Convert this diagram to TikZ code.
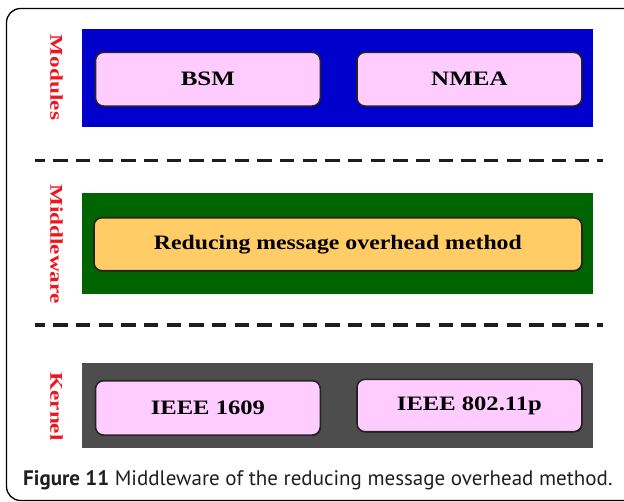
\documentclass[tikz,border=0pt]{standalone}
\usepackage{fontspec}
\setmainfont{Liberation Serif}
\newfontfamily\capfont{PT Sans}
\usetikzlibrary{shadows}
\definecolor{layerblue}{RGB}{0,0,204}
\definecolor{layergreen}{RGB}{0,100,0}
\definecolor{layergray}{RGB}{77,77,77}
\definecolor{boxpink}{RGB}{255,204,255}
\definecolor{boxorange}{RGB}{255,204,102}
\definecolor{labelred}{RGB}{240,20,30}
\definecolor{boxedge}{RGB}{40,35,35}
\definecolor{dashcol}{RGB}{30,30,30}
\newcommand{\boxtext}[2][1.22]{\scalebox{#1}[1]{\fontsize{20.5}{24}\selectfont\bfseries #2}}
\newcommand{\sidetext}[1]{\scalebox{1.29}[1]{\fontsize{18}{20}\selectfont\bfseries #1}}
\begin{document}
\begin{tikzpicture}[x=1pt,y=-1pt,
  layer/.style={draw=none, inner sep=0pt, outer sep=0pt, minimum width=510.5pt},
  module/.style={draw=boxedge, line width=1.6pt, rounded corners=8pt, inner sep=0pt,
    minimum width=224.8pt, minimum height=53.7pt, fill=boxpink,
    drop shadow={shadow xshift=0.8pt, shadow yshift=-0.8pt, fill=black, opacity=0.5}},
  sidelabel/.style={text=labelred, rotate=-90, inner sep=0pt},
  sep/.style={draw=dashcol, line width=3.6pt, dash pattern=on 14.3pt off 8.37pt, dash phase=4.3pt}
]
\useasboundingbox (0,0) rectangle (624,501);
\begin{scope}
\clip (0,0) rectangle (624,501);
\draw[line width=1.3pt, rounded corners=14pt] (6.5,8.5) rectangle (650,500.5);
\end{scope}

% layers
\node[layer, fill=layerblue, minimum height=98pt] (modules) at (337.6,78.3) {};
\node[layer, fill=layergreen, minimum height=101.3pt] (middleware) at (337.6,243.4) {};
\node[layer, fill=layergray, minimum height=85pt] (kernel) at (337.6,405.8) {};

% side labels
\node[sidelabel] (lmod) at (56.5,77.5) {\sidetext{Modules}};
\node[sidelabel] (lmid) at (56.5,244) {\sidetext{Middleware}};
\node[sidelabel] (lker) at (56.5,406.5) {\sidetext{Kernel}};

% module boxes
\node[module] (bsm) at (207.9,79.2) {\boxtext{BSM}};
\node[module] (nmea) at (469.4,79.2) {\boxtext{NMEA}};
\node[module, fill=boxorange, minimum width=487.9pt, minimum height=53pt] (rmo) at (337.9,244.2) {\boxtext[1.16]{Reducing message overhead method}};
\node[module, minimum height=54.3pt] (ieee1609) at (207.9,407.9) {\boxtext[1.2]{IEEE 1609}};
\node[module, minimum height=52.4pt] (ieee80211p) at (469.4,405.5) {\boxtext[1.2]{IEEE 802.11p}};

% separators
\coordinate (s1a) at (35,160.5);
\coordinate (s1b) at (603,160.5);
\coordinate (s2a) at (35,325);
\coordinate (s2b) at (603,325);
\draw[sep] (s1a) -- (s1b);
\draw[sep] (s2a) -- (s2b);

% caption
\node[anchor=base west, inner sep=0pt, text=black!88] (caption) at (23,485)
  {\fontsize{21}{24}\capfont\selectfont\textbf{Figure 11} Middleware of the reducing message overhead method.};
\end{tikzpicture}
\end{document}
